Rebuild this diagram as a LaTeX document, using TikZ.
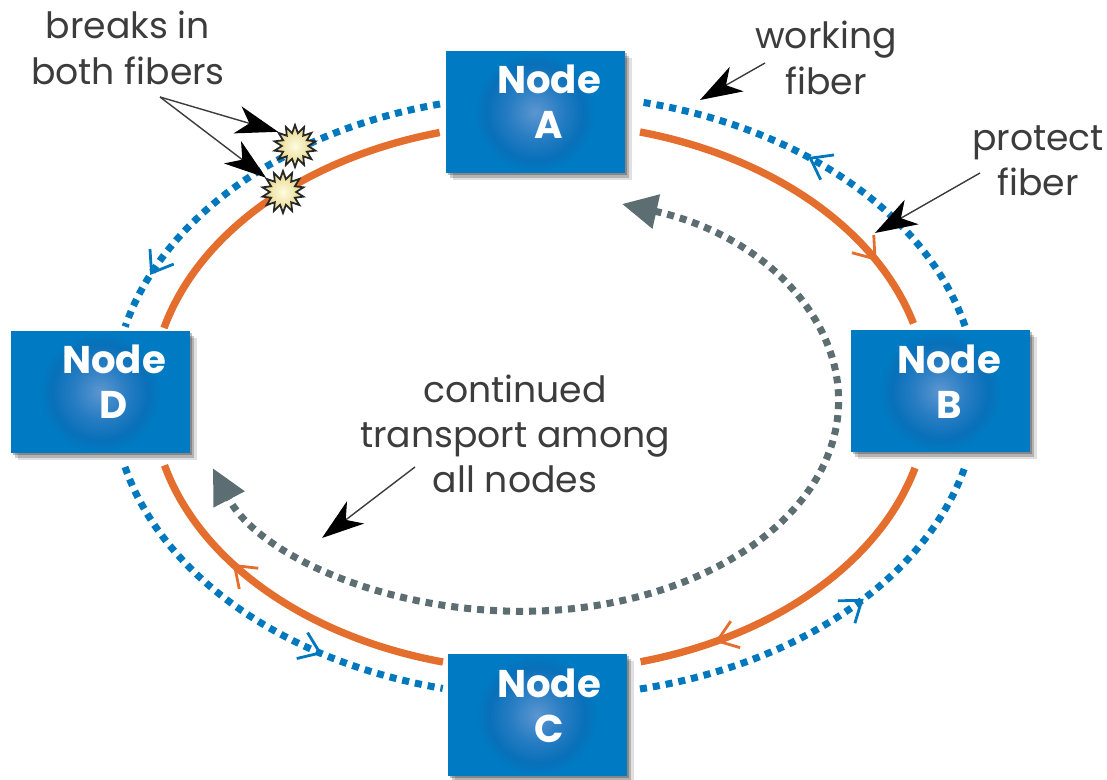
\documentclass[tikz,border=0pt]{standalone}
\usepackage{fontspec}
\usepackage{tikz}
\usetikzlibrary{arrows.meta,decorations.markings,shadows,shapes.geometric}
\setmainfont{Poppins}

\definecolor{boxblue}{RGB}{0,122,194}
\definecolor{glowblue}{RGB}{92,150,208}
\definecolor{glowmid}{RGB}{40,125,195}
\definecolor{glowdeep}{RGB}{8,112,185}
\definecolor{fiberblue}{RGB}{0,120,190}
\definecolor{fiberorange}{RGB}{228,110,45}
\definecolor{fibergrey}{RGB}{93,110,115}
\definecolor{labelgrey}{RGB}{60,60,60}
\definecolor{starcream}{RGB}{255,252,225}
\definecolor{staryellow}{RGB}{228,212,130}

\pgfdeclareradialshading{boxglow}{\pgfpointorigin}{color(0bp)=(glowblue); color(11bp)=(glowmid); color(20bp)=(glowdeep); color(25bp)=(boxblue); color(50bp)=(boxblue)}

\tikzset{
    fiberbox/.style={rectangle, fill=boxblue, minimum width=179*0.02cm, minimum height=122*0.02cm, inner sep=0pt,
        drop shadow={shadow xshift=1.2pt, shadow yshift=-1.2pt, fill=black, opacity=0.25},
        drop shadow={shadow xshift=2.6pt, shadow yshift=-2.6pt, fill=black, opacity=0.2},
        drop shadow={shadow xshift=4.2pt, shadow yshift=-4.2pt, fill=black, opacity=0.12}},
    boxtext/.style={text=white, align=center, font=\bfseries\fontsize{22}{25.8}\selectfont},
    fibertext/.style={text=labelgrey, align=center, font=\fontsize{20.6}{25.8}\selectfont},
    breakstar/.style={star, star points=14, star point ratio=1.6, minimum size=42*0.02cm, inner sep=0pt,
        draw=black!85, line width=1pt, inner color=starcream, outer color=staryellow},
    protect/.style={draw=fiberorange, line width=4.2pt},
    working/.style={draw=fiberblue, line width=4pt, dash pattern=on 4pt off 3.4pt},
    transport/.style={draw=fibergrey, line width=4pt, dash pattern=on 4pt off 3.4pt},
    leader/.style={draw=labelgrey, line width=0.8pt, -{Stealth[length=24pt, width=16pt, inset=7pt, color=black]}},
    midbarb/.style={postaction={decorate}, decoration={markings, mark=at position #1 with {\arrow[line width=1.6pt]{Straight Barb[length=11pt, width=16pt]}}}}
}

\begin{document}
\begin{tikzpicture}[x=0.02cm, y=-0.02cm]
    \useasboundingbox (0,0) rectangle (1107,780);

    % protect fiber
    \coordinate (protectAB) at (640,132);
    \coordinate (protectBC) at (915,468);
    \coordinate (protectCD) at (443,662);
    \coordinate (protectDS) at (164,328);
    \coordinate (protectSA) at (283,192);
    \draw[protect, midbarb=0.79] (protectAB) arc[start angle=-75, end angle=-15.5, x radius=388, y radius=274];
    \draw[protect, midbarb=0.78] (protectBC) arc[start angle=15, end angle=75, x radius=388, y radius=274];
    \draw[protect, midbarb=0.66] (protectCD) arc[start angle=104.5, end angle=165.5, x radius=388, y radius=274];
    \draw[protect] (protectDS) arc[start angle=194.5, end angle=228.5, x radius=388, y radius=274];
    \draw[protect] (protectSA) arc[start angle=228.5, end angle=255, x radius=388, y radius=274];

    % working fiber
    \coordinate (workingBA) at (965,326);
    \coordinate (workingAN) at (440,104);
    \coordinate (workingND) at (295,151);
    \coordinate (workingDC) at (125,467);
    \coordinate (workingCB) at (640,689);
    \draw[working, midbarb=0.57] (workingBA) arc[start angle=-13.5, end angle=-77.3, x radius=432, y radius=302];
    \draw[working] (workingAN) arc[start angle=256, end angle=234.6, x radius=432, y radius=302];
    \draw[working, midbarb=0.77] (workingND) arc[start angle=234.6, end angle=193.5, x radius=432, y radius=302];
    \draw[working, midbarb=0.69] (workingDC) arc[start angle=166.5, end angle=103.7, x radius=432, y radius=300];
    \draw[working, midbarb=0.59] (workingCB) arc[start angle=77.3, end angle=13.5, x radius=432, y radius=300];

    % continued transport
    \coordinate (transportA) at (622,204);
    \draw[transport, {Triangle[length=20pt, width=19pt, color=fibergrey]}-{Triangle[length=20pt, width=19pt, color=fibergrey]}] (transportA)
        arc[start angle=-71.6, end angle=90, x radius=316, y radius=209]
        arc[start angle=90, end angle=161.6, x radius=326, y radius=209];

    % nodes
    \node[fiberbox] (nodeA) at (535,112) {};
    \shade[shading=boxglow] (nodeA.center) circle (60);
    \node[boxtext] (textA) at (549,102) {Node\\A};
    \node[fiberbox] (nodeB) at (940,391) {};
    \shade[shading=boxglow] (nodeB.center) circle (60);
    \node[boxtext] (textB) at (949,382) {Node\\B};
    \node[fiberbox] (nodeC) at (537,715) {};
    \shade[shading=boxglow] (nodeC.center) circle (60);
    \node[boxtext] (textC) at (549,706) {Node\\C};
    \node[fiberbox] (nodeD) at (100,392) {};
    \shade[shading=boxglow] (nodeD.center) circle (60);
    \node[boxtext] (textD) at (114,382) {Node\\D};

    % breaks
    \node[breakstar] (breakN) at (295,146) {};
    \node[breakstar] (breakS) at (283,192) {};

    % labels
    \node[fibertext] (labelBreaks) at (128,48) {breaks in\\both fibers};
    \node[fibertext] (labelWorking) at (826,58) {working\\fiber};
    \node[fibertext] (labelProtect) at (1038,161) {protect\\fiber};
    \node[fibertext] (labelTransport) at (515,434) {continued\\transport among\\all nodes};

    % leaders
    \coordinate (breaksTail) at (160,97);
    \coordinate (workingTail) at (765,63);
    \coordinate (workingTip) at (700,100);
    \coordinate (protectTail) at (980,173);
    \coordinate (protectTip) at (875,233);
    \coordinate (transportTail) at (415,467);
    \coordinate (transportTip) at (322,538);
    \draw[leader] (breaksTail) -- (breakN.140);
    \draw[leader] (breaksTail) -- (breakS.140);
    \draw[leader] (workingTail) -- (workingTip);
    \draw[leader] (protectTail) -- (protectTip);
    \draw[leader] (transportTail) -- (transportTip);
\end{tikzpicture}
\end{document}
